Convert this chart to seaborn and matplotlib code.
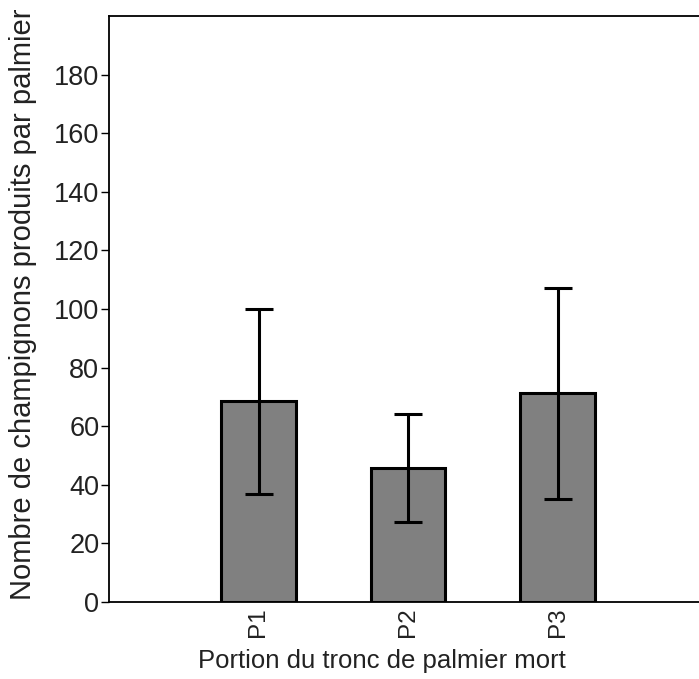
import matplotlib
matplotlib.use("Agg")
import matplotlib.pyplot as plt
import pandas as pd
import seaborn as sns

portions = ["P1", "P2", "P3"]
moyennes = [68.5, 45.7, 71.3]
erreurs = [31.5, 18.3, 36.0]

df = pd.DataFrame({"portion": portions, "moyenne": moyennes})

sns.set_theme(style="white")
plt.rcParams["font.family"] = ["Liberation Sans", "DejaVu Sans"]

fig = plt.figure(figsize=(6.99, 6.79), dpi=100)
ax = fig.add_axes([109 / 699, 77 / 679, 598 / 699, 586 / 679])

sns.barplot(data=df, x="portion", y="moyenne", color="#808080", saturation=1,
            width=0.5, edgecolor="black", linewidth=2.2, errorbar=None, ax=ax)
ax.errorbar(range(len(portions)), moyennes, yerr=erreurs, fmt="none",
            ecolor="black", elinewidth=2.2, capsize=10, capthick=2.2)

ax.set_xlim(-1.0, 3.0)
ax.set_ylim(0, 200)
ax.set_yticks(range(0, 181, 20))
ax.tick_params(axis="y", length=6, width=1, pad=1, labelsize=19.5, color="black",
               labelcolor="#222222", left=True)
ax.tick_params(axis="x", length=0, pad=4, labelsize=17.5, labelrotation=90,
               labelcolor="#222222")

for side in ["left", "top", "bottom"]:
    ax.spines[side].set_color("black")
    ax.spines[side].set_linewidth(1.3)
ax.spines["right"].set_visible(False)

ax.set_xlabel("Portion du tronc de palmier mort", fontsize=18.5, color="#222222")
ax.set_ylabel("Nombre de champignons produits par palmier", fontsize=21, color="#222222")
ax.xaxis.set_label_coords(0.4565, -0.08)
ax.yaxis.set_label_coords(-0.12, 0.508)

fig.savefig("out.png", dpi=100)
